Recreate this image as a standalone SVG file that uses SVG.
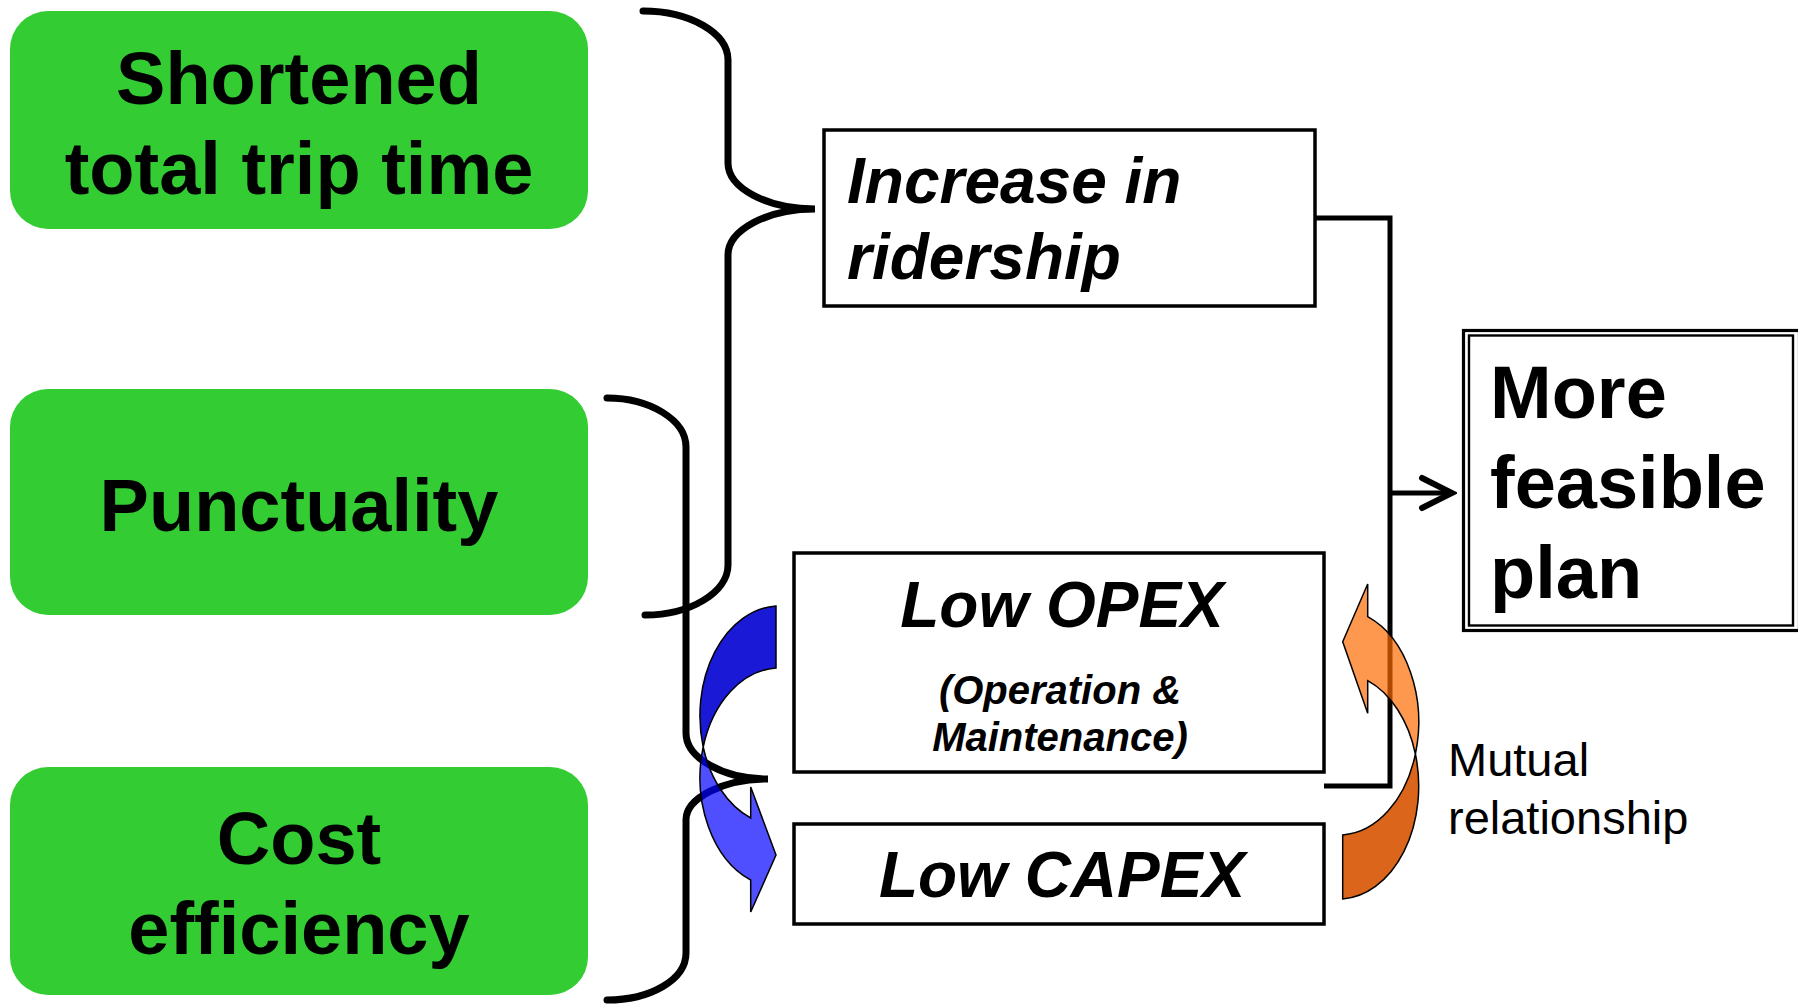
<svg xmlns="http://www.w3.org/2000/svg" width="1798" height="1004" viewBox="0 0 1798 1004">
  <defs>
    <style>
      .green { fill: #33CC33; }
      .box { fill: #ffffff; stroke: #000000; stroke-width: 3.5; }
      .t { font-family: "Liberation Sans", Arial, sans-serif; fill: #000000; }
      .big { font-size: 74px; font-weight: bold; }
      .bi { font-size: 64px; font-weight: bold; font-style: italic; }
      .sub { font-size: 40px; font-weight: bold; font-style: italic; }
      .note { font-size: 47px; }
      .brace { fill: none; stroke: #000000; stroke-width: 7; stroke-linecap: round; }
      .conn { fill: none; stroke: #000000; stroke-width: 5; }
      .arrow-outline { stroke: #000000; stroke-width: 1.5; stroke-linejoin: miter; }
    </style>
    <marker id="chev" markerUnits="userSpaceOnUse" viewBox="0 0 40 40" markerWidth="40" markerHeight="40" refX="35" refY="20" orient="auto">
      <path d="M5,5 L35,20 L5,35" fill="none" stroke="#000000" stroke-width="6" stroke-linecap="round" stroke-linejoin="miter"/>
    </marker>
  </defs>
  <rect width="1798" height="1004" fill="#ffffff"/>

  <g id="node-shortened">
    <rect class="green" x="10" y="11" width="578" height="218" rx="38" ry="38"/>
    <text class="t big" x="299" y="104" text-anchor="middle">Shortened</text>
    <text class="t big" x="299" y="194" text-anchor="middle">total trip time</text>
  </g>
  <g id="node-punctuality">
    <rect class="green" x="10" y="389" width="578" height="226" rx="38" ry="38"/>
    <text class="t big" x="299" y="531" text-anchor="middle">Punctuality</text>
  </g>
  <g id="node-cost">
    <rect class="green" x="10" y="767" width="578" height="228" rx="38" ry="38"/>
    <text class="t big" x="299" y="864" text-anchor="middle">Cost</text>
    <text class="t big" x="299" y="954" text-anchor="middle">efficiency</text>
  </g>

  <g id="node-ridership">
    <rect class="box" x="824" y="130" width="491" height="176"/>
    <text class="t bi" x="847" y="203">Increase in</text>
    <text class="t bi" x="847" y="279">ridership</text>
  </g>
  <g id="node-opex">
    <rect class="box" x="794" y="553" width="530" height="219"/>
    <text class="t bi" x="1062" y="627" text-anchor="middle">Low OPEX</text>
    <text class="t sub" x="1060" y="704" text-anchor="middle">(Operation &amp;</text>
    <text class="t sub" x="1060" y="751" text-anchor="middle">Maintenance)</text>
  </g>
  <g id="node-capex">
    <rect class="box" x="794" y="824" width="530" height="100"/>
    <text class="t bi" x="1062" y="897" text-anchor="middle">Low CAPEX</text>
  </g>
  <g id="node-feasible">
    <rect x="1463.5" y="330.5" width="336" height="300" fill="#ffffff" stroke="#000000" stroke-width="3.2"/>
    <rect x="1469" y="335.5" width="324" height="290" fill="none" stroke="#000000" stroke-width="2.4"/>
    <text class="t big" x="1490" y="418">More</text>
    <text class="t big" x="1490" y="508">feasible</text>
    <text class="t big" x="1490" y="598">plan</text>
  </g>

  <g id="blue-arrow-back">
    <path class="arrow-outline" fill="#1A1AD6" d="M776,606 A80,110 0 0 0 703.2,747 A80,110 0 0 1 776,668 Z"/>
  </g>

  <g id="connectors">
    <path class="brace" d="M643,11 C690,11 728,33 728,60 L728,163 C728,188 767,209 815,209 C767,209 728,230 728,255 L728,565 C728,592 691,615 645,615"/>
    <path class="brace" d="M607,398 C650,398 686,420 686,447 L686,733 C686,758 723,779 768,779 C723,779 686,798 686,820 L686,953 C686,980 650,1000 607,1000"/>
    <path class="conn" d="M1315,218 L1390,218 L1390,786 L1324,786"/>
    <line class="conn" x1="1390" y1="493" x2="1452" y2="493" marker-end="url(#chev)"/>
  </g>

  <g id="blue-arrow-front">
    <path class="arrow-outline" fill="#0000FF" fill-opacity="0.69" d="M703.2,747 A80,110 0 0 0 750.7,818 L750.7,787 L776,855 L750.7,912 L750.7,880 A80,110 0 0 1 703.2,747 Z"/>
  </g>

  <g id="orange-arrow">
    <path class="arrow-outline" fill="#DB661B" d="M1342.7,835 A80,113 0 0 0 1415.4,754 A80,113 0 0 1 1342.7,899 Z"/>
    <path class="arrow-outline" fill="#FF6A00" fill-opacity="0.69" d="M1342.7,641.7 L1367.7,584 L1367.7,616.7 A80,113 0 0 1 1415.4,754 A80,113 0 0 0 1367.7,680.7 L1367.7,713.3 Z"/>
  </g>

  <g id="label-mutual">
    <text class="t note" x="1448" y="776">Mutual</text>
    <text class="t note" x="1448" y="834">relationship</text>
  </g>
</svg>
